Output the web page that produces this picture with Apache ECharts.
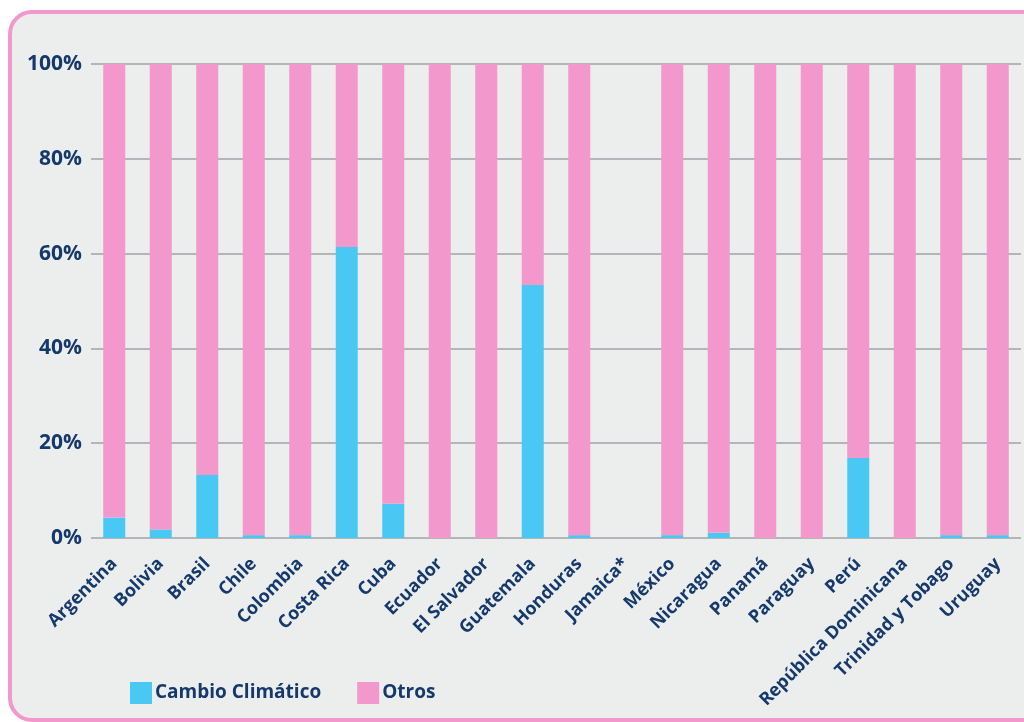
<!DOCTYPE html>
<html>
<head>
<meta charset="utf-8">
<script src="https://cdn.jsdelivr.net/npm/echarts@6/dist/echarts.min.js"></script>
<style>
  html, body { margin: 0; padding: 0; background: #ffffff; }
  #chart { width: 1024px; height: 722px; }
</style>
</head>
<body>
<div id="chart"></div>
<script>
const countries = [
  "Argentina", "Bolivia", "Brasil", "Chile", "Colombia", "Costa Rica", "Cuba",
  "Ecuador", "El Salvador", "Guatemala", "Honduras", "Jamaica*", "México",
  "Nicaragua", "Panamá", "Paraguay", "Perú", "República Dominicana",
  "Trinidad y Tobago", "Uruguay"
];

// share of "Cambio Climático" (%), Jamaica has no data
const cambioClimatico = [
  4.3, 1.8, 13.3, 0.6, 0.6, 61.4, 7.2,
  0, 0, 53.4, 0.6, null, 0.6,
  1.1, 0, 0, 16.9, 0,
  0.6, 0.6
];

const otros = [
  95.7, 98.2, 86.7, 99.4, 99.4, 38.6, 92.8,
  100, 100, 46.6, 99.4, null, 99.4,
  98.9, 100, 100, 83.1, 100,
  99.4, 99.4
];

const yTicks = [0, 20, 40, 60, 80, 100];

const NAVY = "#15396b";
const BLUE = "#48c8f2";
const PINK = "#f298cc";
const FONT = "'Open Sans', 'Noto Sans', sans-serif";

const chart = echarts.init(document.getElementById("chart"));

chart.setOption({
  backgroundColor: "transparent",
  animation: false,
  textStyle: { fontFamily: FONT },
  graphic: [
    {
      type: "rect",
      z: -10,
      silent: true,
      shape: { x: 10, y: 12, width: 1040, height: 708, r: 22 },
      style: { fill: "#eceded", stroke: PINK, lineWidth: 4 },
    },
  ],
  grid: {
    left: 91,
    right: 3,
    top: 64,
    bottom: 184,
  },
  legend: {
    left: 125,
    top: 677,
    icon: "rect",
    itemWidth: 22,
    itemHeight: 22,
    itemGap: 36,
    textStyle: {
      color: NAVY,
      fontFamily: FONT,
      fontWeight: "bold",
      fontSize: 19,
      padding: [0, 0, 0, -2],
    },
    data: ["Cambio Climático", "Otros"],
  },
  xAxis: {
    type: "category",
    data: countries,
    axisLine: { show: false },
    axisTick: { show: false },
    axisLabel: {
      interval: 0,
      rotate: 45,
      margin: 23,
      color: NAVY,
      fontFamily: FONT,
      fontWeight: "bold",
      fontSize: 18,
    },
  },
  yAxis: {
    type: "value",
    min: yTicks[0],
    max: yTicks[yTicks.length - 1],
    interval: 20,
    axisLine: { show: false },
    axisTick: { show: false },
    axisLabel: {
      margin: 9,
      color: NAVY,
      fontFamily: FONT,
      fontWeight: "bold",
      fontSize: 21,
      formatter: "{value}%",
    },
    splitLine: {
      lineStyle: { color: "#b4b5b8", width: 2 },
    },
  },
  series: [
    {
      name: "Cambio Climático",
      type: "bar",
      stack: "total",
      barWidth: 22,
      itemStyle: { color: BLUE },
      data: cambioClimatico,
    },
    {
      name: "Otros",
      type: "bar",
      stack: "total",
      barWidth: 22,
      itemStyle: { color: PINK },
      data: otros,
    },
  ],
});
</script>
</body>
</html>
